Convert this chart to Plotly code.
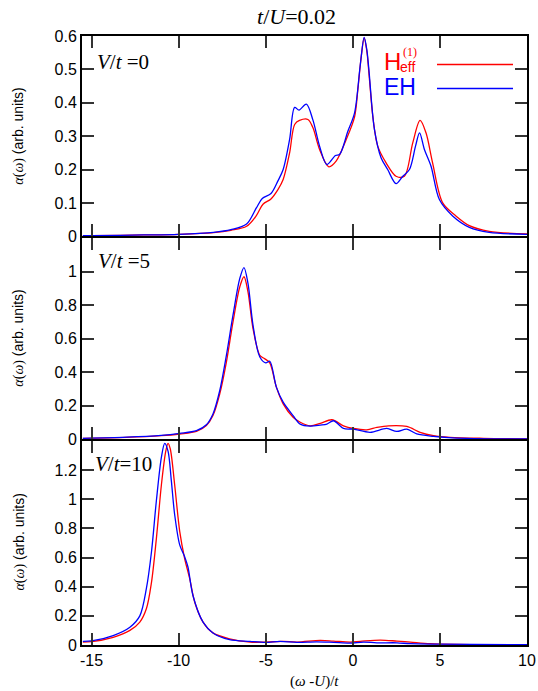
import plotly.graph_objects as go

# ---- spectra: V/t = 0 ----
x0_heff = [-15.5, -15, -12, -10, -8, -7, -6.1, -5.54, -5.16, -4.7, -4.3, -4.0, -3.63, -3.34, -3.06,
           -2.58, -2.29, -1.91, -1.38, -0.96, -0.38, 0.1, 0.29, 0.48, 0.65, 0.8, 0.96, 1.15, 1.43,
           1.91, 2.48, 2.96, 3.44, 3.86, 4.2, 4.58, 5.16, 5.92, 6.69, 7.83, 10]
y0_heff = [0.002, 0.002, 0.004, 0.006, 0.011, 0.018, 0.03, 0.062, 0.096, 0.112, 0.14, 0.17, 0.25, 0.335, 0.347,
           0.35, 0.325, 0.26, 0.208, 0.225, 0.29, 0.358, 0.44, 0.537, 0.594, 0.556, 0.467, 0.358, 0.27,
           0.22, 0.18, 0.18, 0.28, 0.347, 0.31, 0.22, 0.10, 0.061, 0.032, 0.015, 0.007]
x0_eh = [-15.5, -15, -12, -10, -8, -7, -6.1, -5.54, -5.2, -4.7, -4.3, -4.0, -3.63, -3.34, -3.09, -2.67,
         -2.29, -1.91, -1.49, -1.0, -0.76, -0.29, 0.1, 0.42, 0.65, 0.8, 0.92, 1.24, 1.62, 2.0, 2.48,
         2.87, 3.25, 3.6, 3.83, 4.11, 4.49, 4.97, 5.73, 6.69, 7.83, 10]
y0_eh = [0.002, 0.002, 0.004, 0.006, 0.012, 0.02, 0.037, 0.085, 0.113, 0.128, 0.166, 0.20, 0.29, 0.386, 0.378, 0.396,
         0.348, 0.27, 0.215, 0.242, 0.245, 0.314, 0.37, 0.51, 0.596, 0.56, 0.5, 0.32, 0.235, 0.2, 0.158,
         0.18, 0.2, 0.27, 0.31, 0.26, 0.21, 0.11, 0.061, 0.027, 0.012, 0.006]

# ---- spectra: V/t = 5 ----
x5_heff = [-15.5, -13, -11, -9.94, -8.98, -8.41, -8.03, -7.64, -7.26, -6.88, -6.49, -6.25, -6.02, -5.73,
           -5.34, -5.06, -4.77, -4.39, -4.0, -3.43, -3.02, -2.45, -1.87, -1.2, -0.54, 0.04, 0.8, 1.38,
           2.05, 3.1, 3.86, 4.63, 5.58, 7.5, 10]
y5_heff = [0.004, 0.01, 0.02, 0.03, 0.045, 0.08, 0.14, 0.27, 0.46, 0.70, 0.91, 0.97, 0.88, 0.66,
           0.50, 0.48, 0.455, 0.31, 0.21, 0.13, 0.10, 0.079, 0.093, 0.115, 0.079, 0.063, 0.055, 0.069,
           0.079, 0.075, 0.04, 0.02, 0.01, 0.004, 0.001]
x5_eh = [-15.5, -13, -11, -9.94, -8.98, -8.41, -8.03, -7.64, -7.26, -6.88, -6.49, -6.25, -6.02, -5.73,
         -5.34, -5.0, -4.77, -4.39, -4.0, -3.43, -3.02, -2.45, -1.87, -1.49, -1.11, -0.54, 0.04, 0.99,
         1.95, 2.52, 3.1, 3.67, 4.63, 6.54, 10]
y5_eh = [0.004, 0.011, 0.022, 0.034, 0.05, 0.085, 0.15, 0.29, 0.50, 0.74, 0.96, 1.025, 0.93, 0.68,
         0.49, 0.455, 0.465, 0.31, 0.22, 0.14, 0.089, 0.077, 0.083, 0.089, 0.109, 0.063, 0.059, 0.04,
         0.063, 0.045, 0.059, 0.03, 0.016, 0.004, 0.001]

# ---- spectra: V/t = 10 ----
x10_heff = [-15.5, -15, -13.76, -12.8, -12.23, -11.85, -11.56, -11.28, -10.99, -10.74, -10.61, -10.48,
            -10.23, -9.94, -9.66, -9.37, -9.08, -8.6, -8.03, -7.08, -5.9, -5, -3.98, -3.2, -1.88, -1.11,
            -0.15, 0.42, 1.57, 2.53, 3.3, 4.44, 5.98, 10]
y10_heff = [0.02, 0.023, 0.053, 0.10, 0.157, 0.25, 0.43, 0.73, 1.10, 1.33, 1.384, 1.345,
            1.10, 0.78, 0.595, 0.457, 0.295, 0.157, 0.083, 0.042, 0.02, 0.02, 0.025, 0.02, 0.032, 0.027,
            0.02, 0.025, 0.034, 0.027, 0.02, 0.009, 0.004, 0.002]
x10_eh = [-15.5, -15, -13.76, -12.8, -12.23, -11.85, -11.56, -11.28, -10.99, -10.8, -10.61, -10.42,
          -10.23, -9.94, -9.66, -9.47, -9.18, -8.6, -8.03, -7.08, -5.9, -5, -4.18, -3.2, -2.07, -1.11,
          -0.15, 0.61, 1.38, 2.53, 3.3, 4.9, 10]
y10_eh = [0.025, 0.028, 0.065, 0.122, 0.20, 0.39, 0.64, 0.99, 1.29, 1.384, 1.33, 1.126,
          0.895, 0.687, 0.607, 0.537, 0.34, 0.157, 0.083, 0.037, 0.025, 0.018, 0.025, 0.018, 0.022, 0.018,
          0.013, 0.02, 0.015, 0.015, 0.009, 0.006, 0.002]

x_ticks = [-15, -10, -5, 0, 5, 10]
x_ticktext = ["-15", "-10", "-5", "0", "5", "10"]
panel_labels = ["<i>V</i>/<i>t</i> =0", "<i>V</i>/<i>t</i> =5", "<i>V</i>/<i>t</i>=10"]
y_ranges = [[0, 0.6], [0, 1.2], [0, 1.4]]
y_tickvals = [[0, 0.1, 0.2, 0.3, 0.4, 0.5, 0.6],
              [0, 0.2, 0.4, 0.6, 0.8, 1.0],
              [0, 0.2, 0.4, 0.6, 0.8, 1.0, 1.2]]
y_ticktext = [["0", "0.1", "0.2", "0.3", "0.4", "0.5", "0.6"],
              ["0", "0.2", "0.4", "0.6", "0.8", "1"],
              ["0", "0.2", "0.4", "0.6", "0.8", "1", "1.2"]]

RED = "#ff0000"
BLUE = "#0000ff"
SANS = "Liberation Sans"
SERIF = "Liberation Serif"

W, H = 538, 691
ML, MR, MT, MB = 82, 11, 36, 46
LW = 2  # frame line width
plot_h = H - MT - MB
# panel boundaries (pixels from top)
bounds_px = [MT, 237.3, 440, H - MB]


def py2paper(py):
    return (H - MB - py) / plot_h


def px2paper(px):
    return (px - ML) / (W - ML - MR)


# adjacent panels share one frame line: leave a gap equal to the line width
domains = []
for i in range(3):
    top = bounds_px[i] + (LW / 2 if i > 0 else 0)
    bot = bounds_px[i + 1] - (LW / 2 if i < 2 else 0)
    domains.append([max(0.0, py2paper(bot)), min(1.0, py2paper(top))])

fig = go.Figure()
series = [(x0_heff, y0_heff, x0_eh, y0_eh),
          (x5_heff, y5_heff, x5_eh, y5_eh),
          (x10_heff, y10_heff, x10_eh, y10_eh)]

for i, (xr, yr, xb, yb) in enumerate(series):
    xa = "x" if i == 0 else f"x{i + 1}"
    ya = "y" if i == 0 else f"y{i + 1}"
    fig.add_trace(go.Scatter(x=xr, y=yr, mode="lines", xaxis=xa, yaxis=ya,
                             line=dict(color=RED, width=1.3, shape="spline", smoothing=0.9),
                             showlegend=False, hoverinfo="skip"))
    fig.add_trace(go.Scatter(x=xb, y=yb, mode="lines", xaxis=xa, yaxis=ya,
                             line=dict(color=BLUE, width=1.3, shape="spline", smoothing=0.9),
                             showlegend=False, hoverinfo="skip"))

axis_common = dict(showline=True, linecolor="black", linewidth=LW, mirror="allticks",
                   ticks="inside", ticklen=12, tickwidth=2, tickcolor="#333333",
                   showgrid=False, zeroline=False, automargin=False,
                   tickfont=dict(family=SANS, size=16, color="black"))

layout = dict(width=W, height=H, margin=dict(l=ML, r=MR, t=MT, b=MB, autoexpand=False),
              plot_bgcolor="white", paper_bgcolor="white", showlegend=False)

for i in range(3):
    xk = "xaxis" if i == 0 else f"xaxis{i + 1}"
    yk = "yaxis" if i == 0 else f"yaxis{i + 1}"
    ya = "y" if i == 0 else f"y{i + 1}"
    xa = "x" if i == 0 else f"x{i + 1}"
    layout[xk] = dict(axis_common, range=[-15.55, 10], tickvals=x_ticks, ticktext=x_ticktext,
                      showticklabels=(i == 2), anchor=ya, domain=[0, 1])
    if i > 0:
        layout[xk]["matches"] = "x"
    layout[yk] = dict(axis_common, range=y_ranges[i], tickvals=y_tickvals[i], ticktext=y_ticktext[i],
                      anchor=xa, domain=domains[i])

fig.update_layout(**layout)

annotations = []
# title
annotations.append(dict(text="<i>t</i>/<i>U</i>=0.02", x=px2paper(296), y=py2paper(16),
                        xref="paper", yref="paper", showarrow=False, xanchor="center", yanchor="middle",
                        font=dict(family=SERIF, size=22, color="black")))
# x-axis label
annotations.append(dict(text="(<i>ω</i> -<i>U</i>)/<i>t</i>", x=px2paper(314), y=py2paper(681),
                        xref="paper", yref="paper", showarrow=False, xanchor="center", yanchor="middle",
                        font=dict(family=SERIF, size=15, color="black")))
# y-axis labels and panel labels
ylab = ("<span style='font-family:Liberation Serif'><i>α</i>(<i>ω</i>)</span> (arb. units)")
label_y = [62, 261, 463.5]
label_x = [95, 96, 93]
for i in range(3):
    mid = (bounds_px[i] + bounds_px[i + 1]) / 2
    annotations.append(dict(text=ylab, x=px2paper(19), y=py2paper(mid), xref="paper", yref="paper",
                            showarrow=False, textangle=-90, xanchor="center", yanchor="middle",
                            font=dict(family=SANS, size=14, color="black")))
    annotations.append(dict(text=panel_labels[i], x=px2paper(label_x[i]), y=py2paper(label_y[i]),
                            xref="paper", yref="paper", showarrow=False, xanchor="left", yanchor="middle",
                            font=dict(family=SERIF, size=21, color="black")))

# legend (top panel)
annotations.append(dict(text="H", x=px2paper(383), y=py2paper(61.5), xref="paper", yref="paper",
                        showarrow=False, xanchor="left", yanchor="middle", borderpad=0,
                        font=dict(family=SANS, size=24, color=RED)))
annotations.append(dict(text="eff", x=px2paper(399), y=py2paper(67), xref="paper", yref="paper",
                        showarrow=False, xanchor="left", yanchor="middle", borderpad=0,
                        font=dict(family=SANS, size=14, color=RED)))
annotations.append(dict(text="(1)", x=px2paper(410), y=py2paper(52), xref="paper", yref="paper",
                        showarrow=False, xanchor="center", yanchor="middle", borderpad=0,
                        font=dict(family=SERIF, size=12, color=RED)))
annotations.append(dict(text="EH", x=px2paper(383), y=py2paper(87.5), xref="paper", yref="paper",
                        showarrow=False, xanchor="left", yanchor="middle", borderpad=0,
                        font=dict(family=SANS, size=23, color=BLUE)))

fig.update_layout(annotations=annotations)

shapes = [
    dict(type="line", xref="paper", yref="paper", x0=px2paper(437), x1=px2paper(513),
         y0=py2paper(64.5), y1=py2paper(64.5), line=dict(color=RED, width=1.3)),
    dict(type="line", xref="paper", yref="paper", x0=px2paper(437), x1=px2paper(513),
         y0=py2paper(88.5), y1=py2paper(88.5), line=dict(color=BLUE, width=1.3)),
]
fig.update_layout(shapes=shapes)

fig.write_html("out.html")
